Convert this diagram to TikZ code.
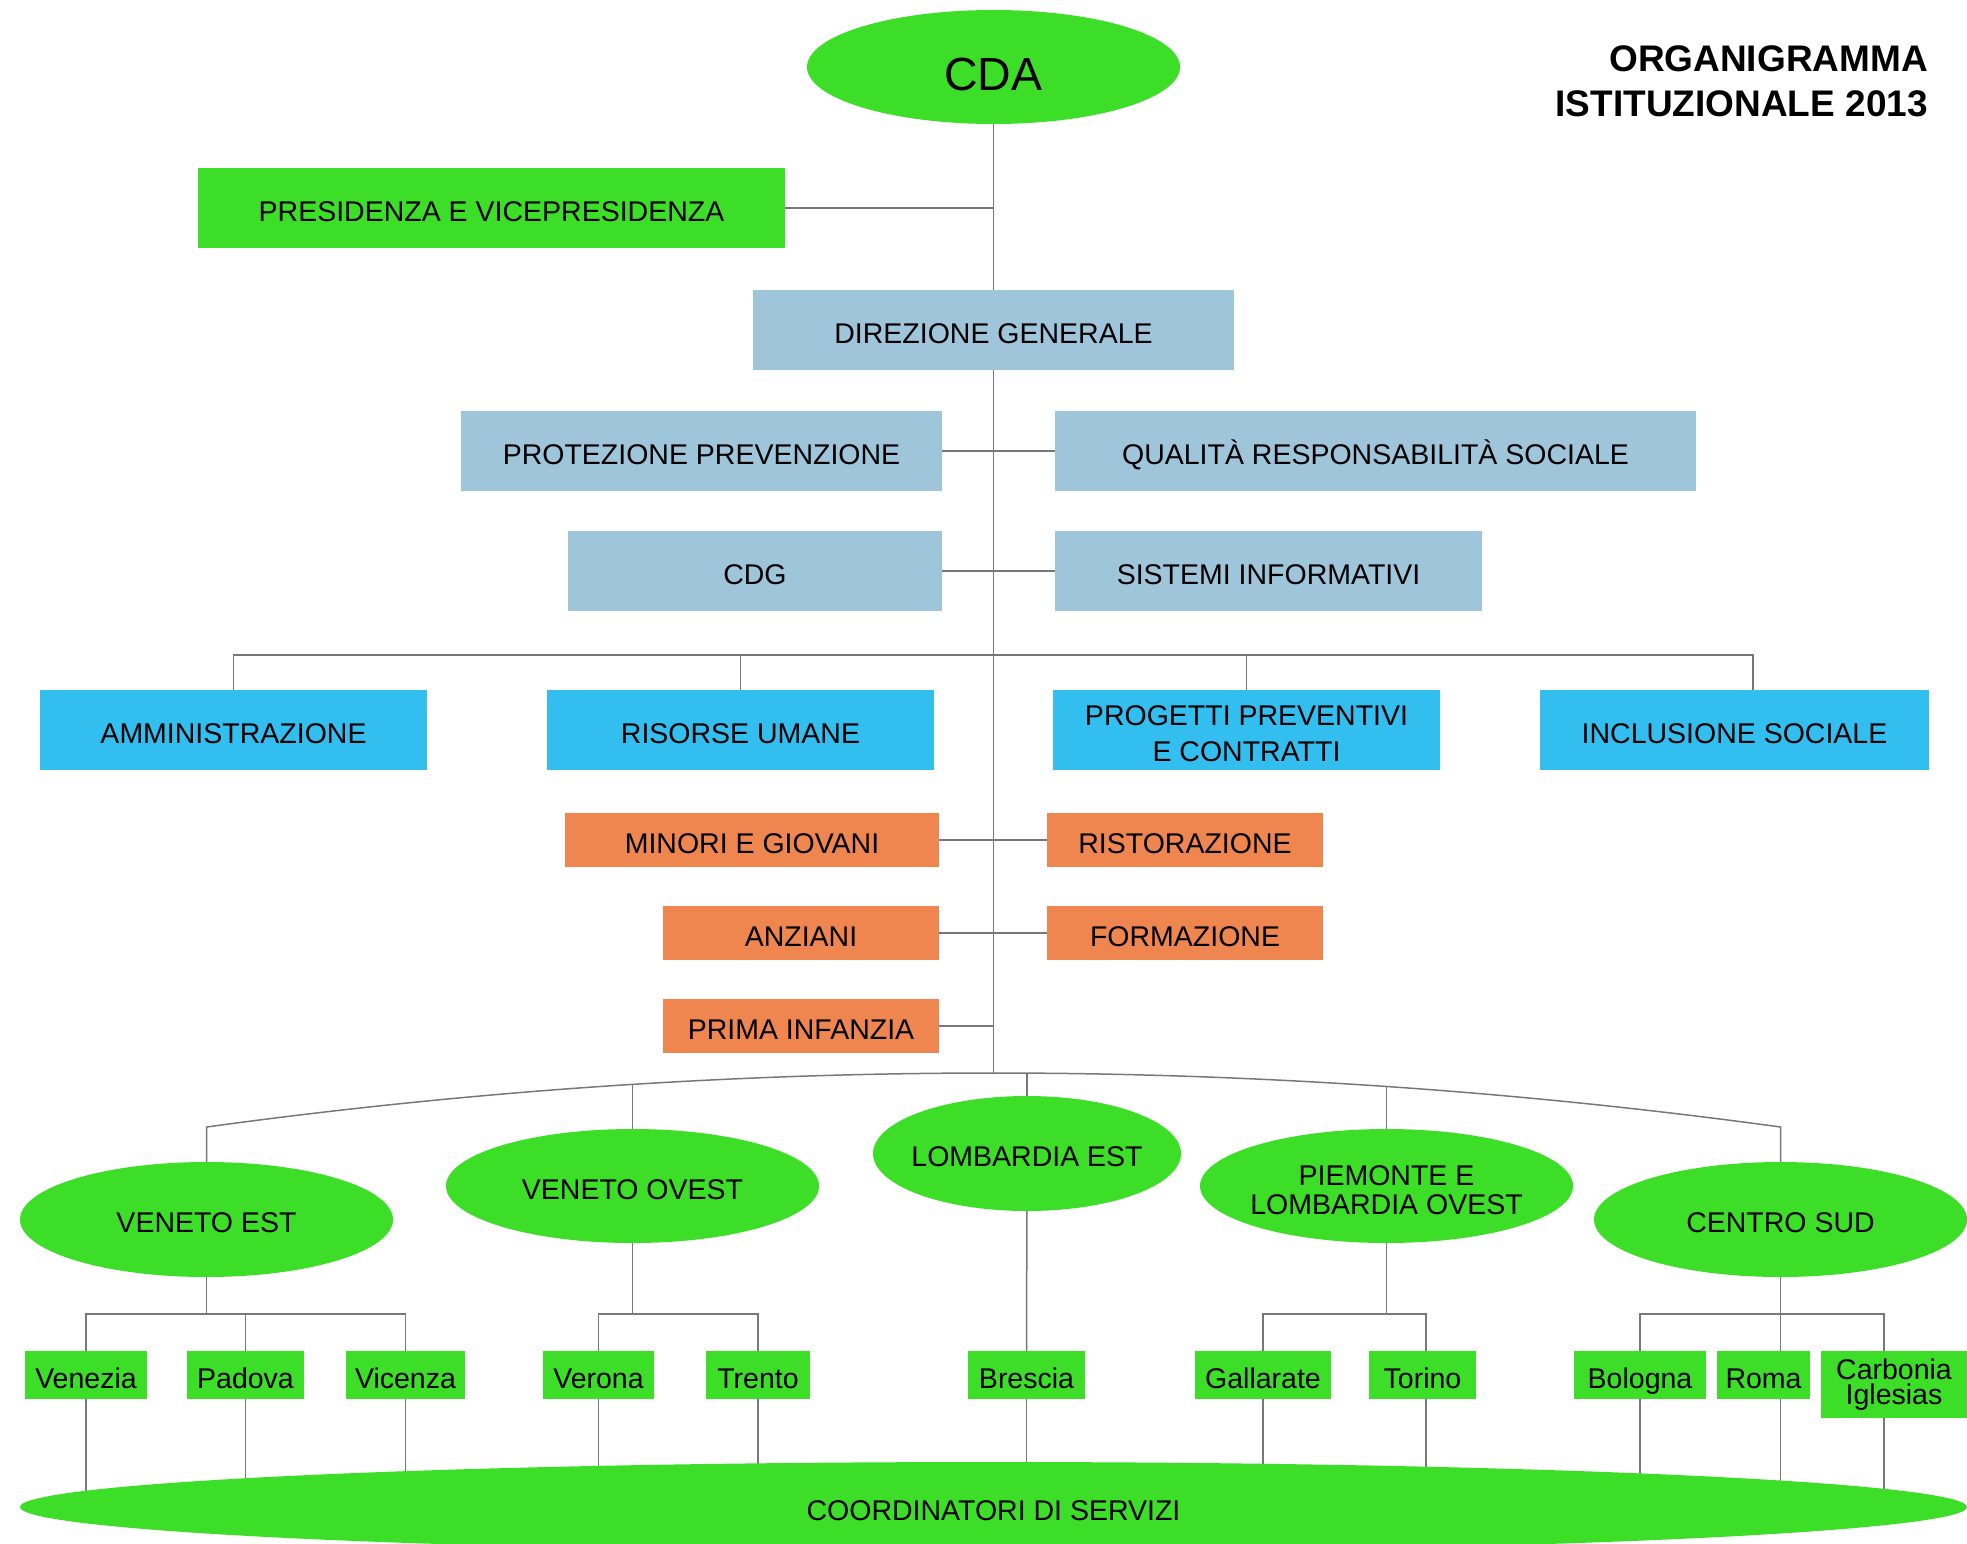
\documentclass[tikz,border=0pt]{standalone}
\usepackage{fontspec}
\setmainfont{Liberation Sans}
\usetikzlibrary{shapes.geometric,backgrounds}
\definecolor{leaf}{HTML}{3CDE28}
\definecolor{pale}{HTML}{9EC5DA}
\definecolor{sky}{HTML}{33BEF0}
\definecolor{amber}{HTML}{F0864F}
\definecolor{wire}{HTML}{787878}
\begin{document}
\begin{tikzpicture}[x=1pt,y=-1pt,
  lab/.style={font=\fontsize{28.5}{29}\selectfont},
  one/.style={text height=30pt,text depth=4pt},
  box/.style={rectangle,inner sep=0pt,lab},
  greenbox/.style={box,fill=leaf,minimum height=80pt},
  palebox/.style={box,fill=pale,minimum height=80pt},
  skybox/.style={box,fill=sky,minimum height=80pt},
  amberbox/.style={box,fill=amber,minimum height=54pt},
  citybox/.style={box,fill=leaf,minimum height=48pt},
  region/.style={ellipse,fill=leaf,inner sep=0pt},
  rlabel/.style={lab,one},
  conn/.style={draw=wire,line width=1.5pt},
  headline/.style={font=\fontsize{37}{45}\selectfont\bfseries,inner sep=0pt,anchor=base east}]
\useasboundingbox (0,0) rectangle (1967,1543);
\clip (0,0) rectangle (1967,1543);

% title
\node[headline] (title1) at (1928,71) {ORGANIGRAMMA};
\node[headline] (title2) at (1928,116) {ISTITUZIONALE 2013};

% board and staff
\node[region,minimum width=373pt,minimum height=114pt,
      label={[font=\fontsize{46.5}{47}\selectfont,text height=46pt,text depth=0pt]center:CDA}] (cda) at (993.5,67) {};
\node[greenbox,one,minimum width=587pt] (pres) at (491.5,208) {PRESIDENZA E VICEPRESIDENZA};
\node[palebox,one,minimum width=481pt] (dir) at (993.5,330) {DIREZIONE GENERALE};
\node[palebox,one,minimum width=481pt] (prot) at (701.5,451) {PROTEZIONE PREVENZIONE};
\node[palebox,one,minimum width=641pt] (qual) at (1375.5,451) {QUALITÀ RESPONSABILITÀ SOCIALE};
\node[palebox,one,minimum width=374pt] (cdg) at (755,571) {CDG};
\node[palebox,one,minimum width=427pt] (sist) at (1268.5,571) {SISTEMI INFORMATIVI};

% departments
\node[skybox,one,minimum width=387pt] (amm) at (233.5,730) {AMMINISTRAZIONE};
\node[skybox,one,minimum width=387pt] (ris) at (740.5,730) {RISORSE UMANE};
\node[skybox,minimum width=387pt,
      label={[font=\fontsize{28.5}{36}\selectfont,align=center,yshift=-4pt]center:PROGETTI PREVENTIVI\\E CONTRATTI}] (prog) at (1246.5,730) {};
\node[skybox,one,minimum width=389pt] (incl) at (1734.5,730) {INCLUSIONE SOCIALE};

% services
\node[amberbox,one,minimum width=374pt] (minori) at (752,840) {MINORI E GIOVANI};
\node[amberbox,one,minimum width=276pt] (rist) at (1185,840) {RISTORAZIONE};
\node[amberbox,one,minimum width=276pt] (anz) at (801,933) {ANZIANI};
\node[amberbox,one,minimum width=276pt] (form) at (1185,933) {FORMAZIONE};
\node[amberbox,one,minimum width=276pt] (prima) at (801,1026) {PRIMA INFANZIA};

% areas
\node[region,minimum width=373pt,minimum height=115pt,label={[rlabel]center:VENETO EST}] (vest) at (206.5,1219.5) {};
\node[region,minimum width=373pt,minimum height=114pt,label={[rlabel]center:VENETO OVEST}] (vovest) at (632.5,1186) {};
\node[region,minimum width=308pt,minimum height=115pt,label={[rlabel]center:LOMBARDIA EST}] (lest) at (1027,1153.5) {};
\node[region,minimum width=373pt,minimum height=114pt,
      label={[lab,align=center,yshift=-4pt]center:PIEMONTE E\\LOMBARDIA OVEST}] (piem) at (1386.5,1186) {};
\node[region,minimum width=373pt,minimum height=115pt,label={[rlabel]center:CENTRO SUD}] (csud) at (1780.5,1219.5) {};

% local offices
\node[citybox,one,minimum width=122pt] (venezia) at (86,1375) {Venezia};
\node[citybox,one,minimum width=117pt] (padova) at (245.5,1375) {Padova};
\node[citybox,one,minimum width=119pt] (vicenza) at (405.5,1375) {Vicenza};
\node[citybox,one,minimum width=111pt] (verona) at (598.5,1375) {Verona};
\node[citybox,one,minimum width=104pt] (trento) at (758,1375) {Trento};
\node[citybox,one,minimum width=117pt] (brescia) at (1026.5,1375) {Brescia};
\node[citybox,one,minimum width=136pt] (gallarate) at (1263,1375) {Gallarate};
\node[citybox,one,minimum width=107pt] (torino) at (1422.5,1375) {Torino};
\node[citybox,one,minimum width=132pt] (bologna) at (1640,1375) {Bologna};
\node[citybox,one,minimum width=93pt] (roma) at (1763.5,1375) {Roma};
\node[citybox,align=center,font=\fontsize{28.5}{25}\selectfont,minimum width=146pt,minimum height=67pt] (carbonia) at (1894,1384.5) {Carbonia\\Iglesias};

% coordinators
\node[region,minimum width=1947pt,minimum height=90pt,label={[rlabel]center:COORDINATORI DI SERVIZI}] (coord) at (993.5,1507) {};

% junction points
\coordinate (hub) at (993.5,1073);
\coordinate (busL) at (233.5,655);
\coordinate (busR) at (1753,655);
\coordinate (cL) at (206.5,1127);
\coordinate (cR) at (1780.5,1127);
\coordinate (jVO) at (632.5,1084.4);
\coordinate (jLE) at (1027,1073.1);
\coordinate (jPI) at (1386.5,1086.5);
\coordinate (ve) at (206.5,1314);
\coordinate (vo) at (632.5,1314);
\coordinate (pi) at (1386.5,1314);
\coordinate (cs) at (1780.5,1314);
\coordinate (toX) at (1426,1314);
\coordinate (roX) at (1780.5,1399);
\coordinate (caX) at (1884,1314);

\begin{scope}[on background layer]
  % main trunk and side branches
  \draw[conn] (cda.center) -- (hub);
  \draw[conn] (pres.east) -- (pres.east -| hub);
  \draw[conn] (prot.east) -- (qual.west);
  \draw[conn] (cdg.east) -- (sist.west);
  \draw[conn] (amm.center) -- (busL) -- (busR) -- (busR |- incl.center);
  \draw[conn] (ris.center) -- (ris.center |- busL);
  \draw[conn] (prog.center) -- (prog.center |- busL);
  \draw[conn] (minori.east) -- (rist.west);
  \draw[conn] (anz.east) -- (form.west);
  \draw[conn] (prima.east) -- (prima.east -| hub);
  % arc over the areas
  \draw[conn] (vest.center) -- (cL) .. controls (731.2,1055) and (1255.8,1055) .. (cR) -- (csud.center);
  \draw[conn] (jVO) -- (vovest.center);
  \draw[conn] (jLE) -- (lest.center);
  \draw[conn] (jPI) -- (piem.center);
  % areas to offices
  \draw[conn] (vest.center) -- (ve);
  \draw[conn] (venezia.center) -- (venezia.center |- ve) -- (vicenza.center |- ve) -- (vicenza.center);
  \draw[conn] (padova.center) -- (padova.center |- ve);
  \draw[conn] (vovest.center) -- (vo);
  \draw[conn] (verona.center) -- (verona.center |- vo) -- (trento.center |- vo) -- (trento.center);
  \draw[conn] (lest.center) -- (brescia.center);
  \draw[conn] (piem.center) -- (pi);
  \draw[conn] (gallarate.center) -- (gallarate.center |- pi) -- (toX) -- (toX |- torino.center);
  \draw[conn] (csud.center) -- (cs) -- (roX);
  \draw[conn] (bologna.center) -- (bologna.center |- cs) -- (caX) -- (caX |- carbonia.center);
  % offices to coordinators
  \foreach \c in {venezia,padova,vicenza,verona,trento,brescia,gallarate,bologna}
    \draw[conn] (\c.center) -- (\c.center |- coord.center);
  \draw[conn] (toX |- torino.center) -- (toX |- coord.center);
  \draw[conn] (roX) -- (roX |- coord.center);
  \draw[conn] (caX |- carbonia.center) -- (caX |- coord.center);
\end{scope}
\end{tikzpicture}
\end{document}
